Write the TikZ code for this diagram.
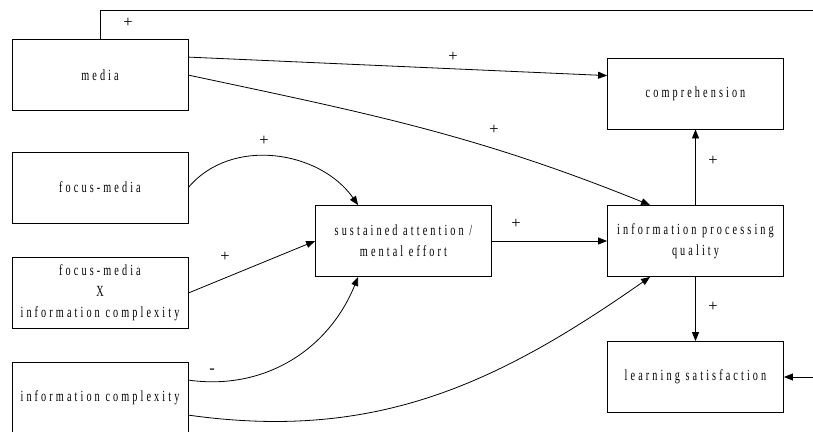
\documentclass[tikz,border=0pt]{standalone}
\usepackage{fontspec}
\setmainfont{Liberation Serif}
\newfontfamily\boxfont[LetterSpace=20,FakeStretch=0.66]{Liberation Serif}
\usetikzlibrary{arrows.meta,calc}

\begin{document}
\begin{tikzpicture}[x=1pt,y=1pt,
  box/.style={draw, line width=0.8pt, minimum width=176pt, minimum height=71pt,
    align=center, inner sep=0pt, font=\boxfont\fontsize{15.5}{21}\selectfont},
  link/.style={draw, line width=0.8pt, -{Triangle[length=9pt,width=7pt]}},
  sign/.style={inner sep=0pt, font=\fontsize{16.5}{16.5}\selectfont}]

\useasboundingbox (0,0) rectangle (813,-431);

% boxes
\node[box] (media)  at (100,-75)    {media};
\node[box] (comp)   at (695.5,-93.5) {comprehension};
\node[box] (focus)  at (100,-187.5) {focus-media};
\node[box] (focusx) at (100,-293)   {focus-media\\X\\information complexity};
\node[box] (infoc)  at (100,-398)   {information complexity};
\node[box] (sust)   at (403.5,-241) {sustained attention /\\mental effort};
\node[box] (ipq)    at (695.5,-241) {information processing\\quality};
\node[box] (learn)  at (695.5,-377) {learning satisfaction};

% feedback loop from media round to learning satisfaction
\coordinate (fb) at (815,-10);
\draw[link] (media.north) |- (fb) |- (learn.east);

% effects
\draw[link] ($(media.north east)+(0,-18)$) -- ($(comp.north west)+(0,-18)$);
\draw[link] ($(media.north east)+(0,-36)$) to[out=-12,in=158] ($(ipq.north west)+(43,0)$);
\draw[link] (focus.east) to[out=50,in=125] ($(sust.north west)+(43,0)$);
\draw[link] (focusx.east) -- (sust.west);
\draw[link] ($(infoc.north east)+(0,-18)$) to[out=-8,in=-112] ($(sust.south west)+(43,0)$);
\draw[link] ($(infoc.north east)+(0,-53)$) to[out=-8,in=-145] ($(ipq.south west)+(43,0)$);
\draw[link] (sust.east) -- (ipq.west);
\draw[link] (ipq.north) -- (comp.south);
\draw[link] (ipq.south) -- (learn.north);

% signs
\node[sign] (s1) at (128,-23)  {+};
\node[sign] (s2) at (453,-57)  {+};
\node[sign] (s3) at (494,-130) {+};
\node[sign] (s4) at (264,-141) {+};
\node[sign] (s5) at (225,-257) {+};
\node[sign] (s6) at (212,-371) {-};
\node[sign] (s7) at (516,-224) {+};
\node[sign] (s8) at (713,-161) {+};
\node[sign] (s9) at (713,-307) {+};
\end{tikzpicture}
\end{document}
